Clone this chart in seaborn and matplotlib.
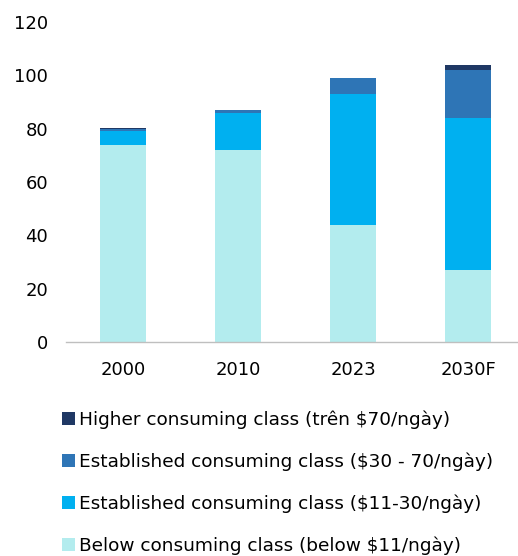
import matplotlib
matplotlib.use("Agg")
import matplotlib.pyplot as plt
import seaborn as sns
import pandas as pd
import numpy as np
from matplotlib.patches import Patch

years = ["2000", "2010", "2023", "2030F"]
below = [74, 72, 44, 27]
est_11_30 = [5, 14, 49, 57]
est_30_70 = [1, 1, 6, 18]
higher = [0.2, 0.1, 0.1, 2]

labels = [
    "Below consuming class (below $11/ngày)",
    "Established consuming class ($11-30/ngày)",
    "Established consuming class ($30 - 70/ngày)",
    "Higher consuming class (trên $70/ngày)",
]
colors = ["#B3ECEE", "#00B0F0", "#2E75B6", "#1F3864"]
yticks = [0, 20, 40, 60, 80, 100, 120]

sns.set_theme(style="white")
plt.rcParams["font.family"] = ["DejaVu Sans"]
plt.rcParams["text.color"] = "#000000"

fig = plt.figure(figsize=(5.18, 5.56), dpi=100)
ax = fig.add_axes([66/518, 1 - 342/556, 1 - 66/518, (342 - 22)/556])

series = [below, est_11_30, est_30_70, higher]
cum = np.cumsum(np.array(series, dtype=float), axis=0)
df = pd.DataFrame({"year": years})
for i in range(3, -1, -1):
    df["v"] = cum[i]
    sns.barplot(data=df, x="year", y="v", color=colors[i], width=0.4,
                saturation=1, ax=ax, linewidth=0, edgecolor="none")

ax.set_ylim(0, 120)
ax.set_xlim(-0.5, 3.435)
ax.set_yticks(yticks)
ax.set_yticklabels([str(t) for t in yticks])
ax.set_xlabel("")
ax.set_ylabel("")
for s in ["top", "right", "left"]:
    ax.spines[s].set_visible(False)
ax.spines["bottom"].set_color("#BFBFBF")
ax.spines["bottom"].set_linewidth(1.0)
ax.tick_params(axis="both", length=0, labelsize=13, colors="#000000")
ax.tick_params(axis="y", pad=13)
ax.tick_params(axis="x", pad=14)

handles = [Patch(facecolor=colors[i], edgecolor="none") for i in range(3, -1, -1)]
leg_labels = [labels[i] for i in range(3, -1, -1)]
leg = fig.legend(handles, leg_labels, loc="upper left",
                 bbox_to_anchor=(55/518, 1 - 403/556),
                 frameon=False, fontsize=13.3, handlelength=0.7, handleheight=0.7,
                 handletextpad=0.2, labelspacing=1.28, borderaxespad=0)
for t in leg.get_texts():
    t.set_color("#000000")

fig.savefig("out.png", dpi=100)
